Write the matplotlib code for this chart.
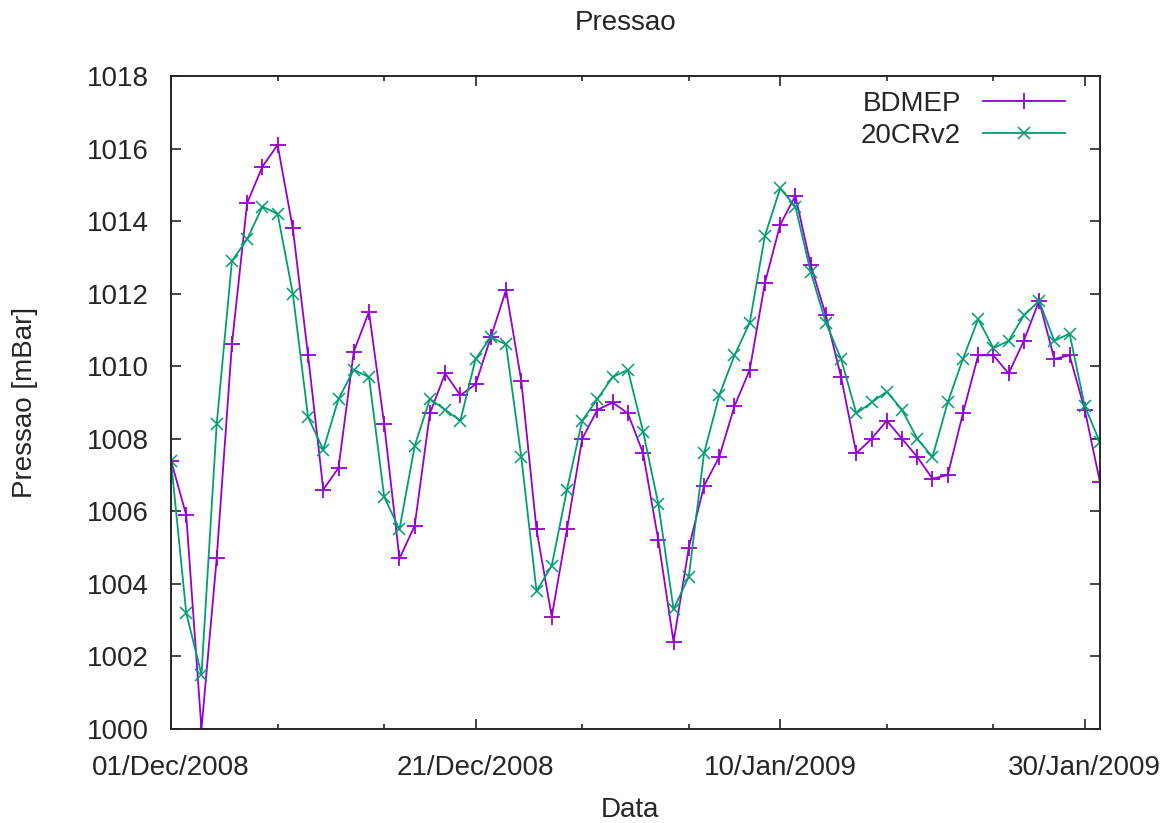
import matplotlib
matplotlib.use("Agg")
import matplotlib.pyplot as plt
import matplotlib.dates as mdates
import pandas as pd

plt.rcParams['font.family'] = ['Liberation Sans', 'DejaVu Sans']

# daily values, 01/Dec/2008 .. 31/Jan/2009
dias = pd.date_range('2008-12-01', periods=62, freq='D')

bdmep = [
    1007.4, 1005.9, 1000.0, 1004.7, 1010.6, 1014.5, 1015.5, 1016.1, 1013.8, 1010.3,
    1006.6, 1007.2, 1010.4, 1011.5, 1008.4, 1004.7, 1005.6, 1008.7, 1009.8, 1009.2,
    1009.5, 1010.8, 1012.1, 1009.6, 1005.5, 1003.1, 1005.5, 1008.0, 1008.8, 1009.0,
    1008.7, 1007.6, 1005.2, 1002.4, 1005.0, 1006.7, 1007.5, 1008.9, 1009.9, 1012.3,
    1013.9, 1014.7, 1012.8, 1011.4, 1009.7, 1007.6, 1008.0, 1008.5, 1008.0, 1007.5,
    1006.9, 1007.0, 1008.7, 1010.3, 1010.3, 1009.8, 1010.7, 1011.8, 1010.2, 1010.3,
    1008.8, 1006.8,
]

cr20v2 = [
    1007.4, 1003.2, 1001.5, 1008.4, 1012.9, 1013.5, 1014.4, 1014.2, 1012.0, 1008.6,
    1007.7, 1009.1, 1009.9, 1009.7, 1006.4, 1005.5, 1007.8, 1009.1, 1008.8, 1008.5,
    1010.2, 1010.8, 1010.6, 1007.5, 1003.8, 1004.5, 1006.6, 1008.5, 1009.1, 1009.7,
    1009.9, 1008.2, 1006.2, 1003.3, 1004.2, 1007.6, 1009.2, 1010.3, 1011.2, 1013.6,
    1014.9, 1014.4, 1012.6, 1011.2, 1010.2, 1008.7, 1009.0, 1009.3, 1008.8, 1008.0,
    1007.5, 1009.0, 1010.2, 1011.3, 1010.5, 1010.7, 1011.4, 1011.8, 1010.7, 1010.9,
    1008.9, 1007.9,
]

datas_major = ['2008-12-01', '2008-12-21', '2009-01-10', '2009-01-30']
rotulos_x = ['01/Dec/2008', '21/Dec/2008', '10/Jan/2009', '30/Jan/2009']
datas_minor = ['2008-12-08', '2008-12-15', '2008-12-28', '2009-01-04',
               '2009-01-17', '2009-01-24']

cor_texto = '#262626'
fs = 20

fig = plt.figure(figsize=(11.67, 8.23), dpi=100)
ax = fig.add_axes([171 / 1167, 1 - 729 / 823, (1100 - 171) / 1167, (729 - 76) / 823])

ax.plot(dias, bdmep, color='#9400d3', lw=1.3, marker='+', ms=11, mew=1.3,
        label='BDMEP')
ax.plot(dias, cr20v2, color='#009e73', lw=1.3, marker='x', ms=9, mew=1.1,
        label='20CRv2')

ax.set_xlim(dias[0], dias[-1])
ax.set_ylim(1000, 1018)
ax.set_yticks(range(1000, 1019, 2))

ax.set_xticks([mdates.date2num(pd.Timestamp(d)) for d in datas_major])
ax.set_xticklabels(rotulos_x)
ax.set_xticks([mdates.date2num(pd.Timestamp(d)) for d in datas_minor], minor=True)

ax.tick_params(which='both', direction='in', top=True, right=True,
               colors=cor_texto, labelsize=fs, width=1.2)
ax.tick_params(which='major', length=7)
ax.tick_params(which='minor', length=3.5)
ax.tick_params(axis='x', which='major', pad=19)
ax.tick_params(axis='y', which='major', pad=16)
for s in ax.spines.values():
    s.set_linewidth(1.4)
    s.set_color(cor_texto)

fig.text(626 / 1167, 1 - 23 / 823, 'Pressao', ha='center', va='center',
         fontsize=fs, color=cor_texto)
fig.text(630 / 1167, 1 - 810 / 823, 'Data', ha='center', va='center',
         fontsize=fs, color=cor_texto)
fig.text(25 / 1167, 1 - 402 / 823, 'Pressao [mBar]', ha='center', va='center',
         rotation=90, fontsize=fs, color=cor_texto)

leg = ax.legend(loc='upper right', bbox_to_anchor=(1065 / 1167, 1 - 91 / 823),
                bbox_transform=fig.transFigure, frameon=False, markerfirst=False,
                numpoints=1, fontsize=fs, handlelength=2.95, handletextpad=0.8,
                labelspacing=0.2, borderpad=0, borderaxespad=0)
for t in leg.get_texts():
    t.set_color(cor_texto)

fig.savefig('out.png', dpi=100)
